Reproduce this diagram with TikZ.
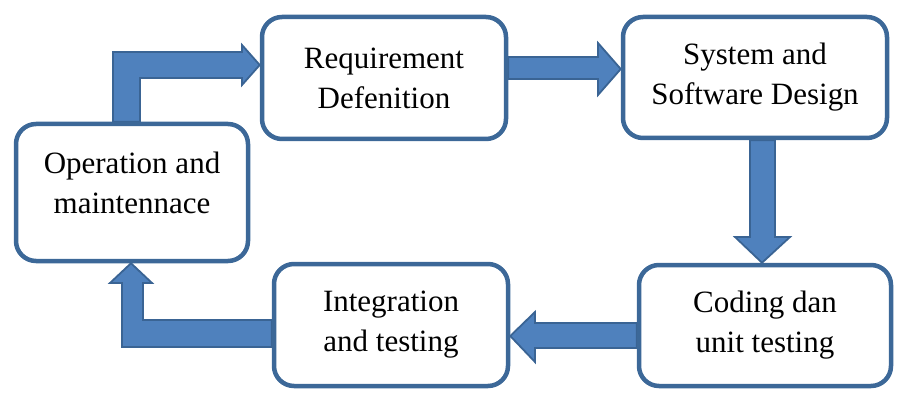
\documentclass[tikz,border=0pt]{standalone}
\usepackage{fontspec}
\setmainfont{Liberation Serif}
\usepackage{tikz}
\usetikzlibrary{backgrounds}

\definecolor{boxline}{RGB}{60,104,152}
\definecolor{arrowfill}{RGB}{79,129,189}
\definecolor{arrowline}{RGB}{58,100,148}

\begin{document}
\begin{tikzpicture}[x=1pt,y=-1pt]
	\useasboundingbox (0,0) rectangle (900,393);
	\begin{scope}[every node/.style={draw=boxline,line width=4.5pt,rounded corners=20pt,
				fill=white,align=center,inner sep=0pt,font=\fontsize{31}{40}\selectfont}]
		% phases, clockwise from the left
		\node[minimum width=232pt,minimum height=137pt,text depth=20pt] (ope) at (132,192.5) {Operation and\\maintennace};
		\node[minimum width=244pt,minimum height=122pt] (req) at (384,78) {Requirement\\Defenition};
		\node[minimum width=264pt,minimum height=121pt] (sys) at (755,77.5) {System and\\Software Design};
		\node[minimum width=252pt,minimum height=121pt] (cod) at (765,325.5) {Coding dan\\unit testing};
		\node[minimum width=234pt,minimum height=122pt] (int) at (391,325) {Integration\\and testing};
	\end{scope}

	\begin{scope}[on background layer,
				every path/.style={fill=arrowfill,draw=arrowline,line width=1.8pt,line join=miter}]
		% block arrows between the phases
		\path (113,0 |- ope.north) -- (113,52) -- (242,52) -- (242,45) -- (req.west |- 0,65)
			-- (242,85) -- (242,78) -- (140,78) -- (140,0 |- ope.north) -- cycle;
		\path (req.east |- 0,57) -- (598,57) -- (598,43) -- (sys.west |- 0,69)
			-- (598,95) -- (598,79) -- (req.east |- 0,79) -- cycle;
		\path (750,0 |- sys.south) -- (750,237) -- (735,237) -- (762,0 |- cod.north)
			-- (790,237) -- (775,237) -- (775,0 |- sys.south) -- cycle;
		\path (cod.west |- 0,323) -- (535,323) -- (535,312) -- (int.east |- 0,336)
			-- (535,362) -- (535,348) -- (cod.west |- 0,348) -- cycle;
		\path (int.west |- 0,320) -- (143,320) -- (143,283) -- (152,283) -- (131,0 |- ope.south)
			-- (110,283) -- (122,283) -- (122,347) -- (int.west |- 0,347) -- cycle;
	\end{scope}
\end{tikzpicture}
\end{document}
